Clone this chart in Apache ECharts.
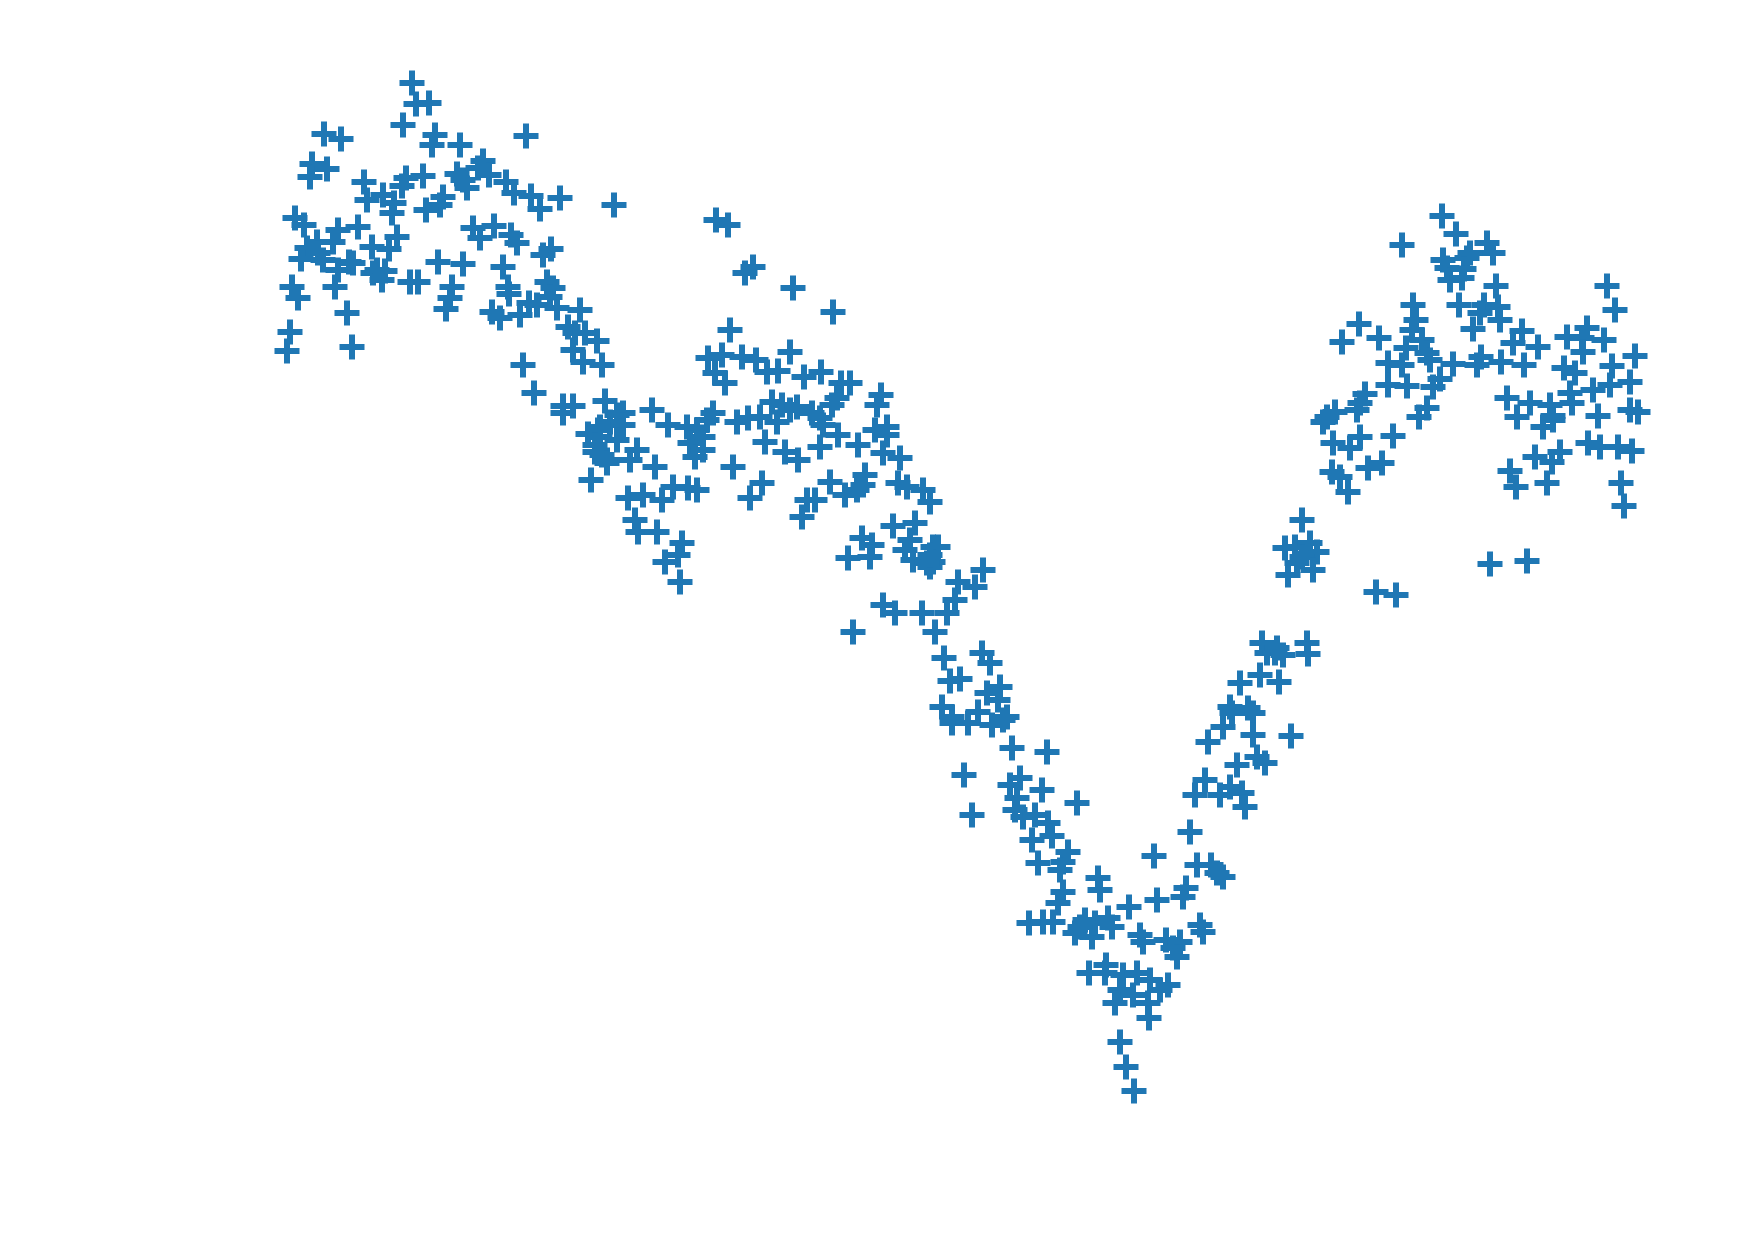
<!DOCTYPE html>
<html>
<head>
<meta charset="utf-8">
<script src="https://cdn.jsdelivr.net/npm/echarts@6/dist/echarts.min.js"></script>
<style>
html,body{margin:0;padding:0;background:#fff;}
#chart{width:1739px;height:1241px;}
</style>
</head>
<body>
<div id="chart"></div>
<script>
// Values (x grows right, y grows downward, no visible axes)
const leftCluster = [
[412,83],[416,104],[429,103],[403,125],[324,134],[341,139],[435,135],[432,145],[460,145],[526,136],
[312,164],[327,169],[310,177],[364,182],[367,200],[383,195],[394,203],[392,213],
[406,178],[402,186],[423,176],[443,197],[440,205],[426,210],[457,174],[467,188],[463,180],
[483,161],[478,168],[489,175],[506,182],[514,193],[531,196],[540,209],[560,198],[614,205],
[295,218],[304,225],[338,230],[358,227],[372,247],[397,237],[389,249],
[473,228],[480,238],[494,226],[511,235],[517,243],[543,255],[551,249],[438,262],[463,264],[503,267],
[307,248],[317,242],[333,242],[301,259],[318,253],[323,260],[349,262],[353,263],[338,270],[373,273],[385,271],[377,270],[382,280],
[292,287],[335,287],[410,282],[418,282],[452,287],[508,287],[547,282],[553,288],
[298,298],[450,298],[446,309],[347,313],[290,332],[287,351],[352,347],
[509,294],[492,312],[500,318],[520,315],[529,303],[537,305],[550,297],[557,308],[580,310],[568,327],[575,333],[585,333],[597,341],[573,350],[583,362],[602,365],
[523,365],[534,393],[563,406],[573,406],[563,413],[605,401],[588,434],[600,427],[600,437],[595,452],[607,460],[591,480]
];
const middle = [
[716,220],[728,225],[753,267],[745,273],[793,288],[833,312],[730,330],
[708,358],[722,355],[742,357],[756,360],[778,371],[790,352],[804,377],[821,372],[841,383],[850,383],[715,373],[725,383],[767,372],
[617,415],[623,413],[610,422],[623,425],[598,430],[617,440],[595,445],[602,455],[607,463],[637,450],[630,460],[655,467],[652,410],[668,425],
[687,427],[697,430],[707,420],[713,413],[690,443],[703,450],[695,457],[737,422],[748,418],[760,417],[772,402],[782,405],[777,422],[790,410],
[797,407],[812,413],[820,418],[823,425],[832,405],[837,398],[838,435],[877,405],[875,430],[881,395],[887,427],[765,442],[785,452],[798,460],
[820,447],[858,445],[733,467],[883,453],[703,437],[887,435],[900,458],
[762,483],[750,498],[830,482],[845,495],[857,490],[865,475],[863,485],[898,483],[907,487],[923,490],[930,502],
[628,498],[643,495],[662,500],[673,487],[688,488],[697,490],[635,520],[638,532],[657,532],[682,543],[678,555],[665,562],[680,582],
[807,500],[815,500],[802,517],[893,526],[915,523],[862,538],[872,545],[848,558],[870,557],[910,540],[905,550],[913,560],[933,547],[930,567],
[883,605],[895,613],[922,613],[853,632],[935,632]
];
const valley = [
[938,547],[933,562],[927,563],[930,555],[983,570],[958,582],[975,587],[955,600],[947,613],[944,658],[982,653],[990,663],[960,679],[950,681],
[1000,687],[987,693],[998,700],[942,707],[978,712],[952,717],[1007,717],
[1262,643],[1267,653],[1260,675],[1240,683],[1230,707],[1248,708],[1253,713],
[952,723],[968,723],[992,725],[1003,720],[1012,748],[1047,752],[964,775],[1010,785],[1020,778],[1042,790],[1017,798],[1077,803],[972,815],
[1015,810],[1023,817],[1035,815],[1048,823],[1052,836],[1032,840],[1038,863],[1068,852],[1063,862],[1060,870],[1098,878],[1100,890],
[1063,892],[1058,903],[1154,856],[1129,907],[1157,900],[1186,888],[1183,897],[1190,832],[1197,865],[1211,865],[1217,873],[1223,877],
[1208,742],[1223,727],[1232,713],[1253,735],[1257,757],[1265,763],[1237,765],[1205,780],[1195,795],[1220,795],[1230,787],[1242,793],[1245,807],
[1029,923],[1043,922],[1053,922],[1075,933],[1085,920],[1092,937],[1095,923],[1108,918],[1112,927],[1080,927],[1140,935],[1143,942],
[1166,940],[1173,948],[1180,942],[1177,957],[1200,925],[1203,932],[1089,973],[1106,965],[1105,973],[1120,990],[1123,975],[1137,973],
[1150,980],[1160,990],[1168,985],[1115,1003],[1133,995],[1148,1003],[1149,1018],[1120,1042],[1126,1067],[1134,1091],
[1275,653],[1283,655],[1307,643],[1308,654],[1279,682],[1291,736]
];
const rightCluster = [
[1442,216],[1456,234],[1402,245],[1487,243],[1493,253],[1443,260],[1467,258],[1470,253],[1447,268],[1464,269],[1450,280],[1462,278],
[1496,286],[1607,286],[1615,310],[1459,305],[1484,305],[1480,313],[1498,307],[1500,320],[1413,305],[1359,324],[1342,342],[1379,338],
[1416,320],[1412,330],[1422,340],[1406,348],[1473,329],[1522,331],[1513,343],[1538,347],[1567,337],[1582,338],[1587,328],[1604,340],
[1583,352],[1635,356],[1388,363],[1402,365],[1427,353],[1430,360],[1453,364],[1481,357],[1477,365],[1501,362],[1524,365],[1564,368],
[1575,373],[1612,366],[1630,382],[1610,385],[1593,390],[1570,393],[1388,385],[1407,386],[1440,379],[1433,387],[1365,394],[1360,403],
[1507,398],[1530,403],[1550,405],[1572,403],[1598,416],[1630,410],[1427,408],[1419,417],[1327,417],[1335,412],[1357,410],[1517,417],[1553,416],
[1323,422],[1333,443],[1350,448],[1360,437],[1393,436],[1332,472],[1340,477],[1348,492],[1368,468],[1382,463],[1543,427],[1553,420],
[1638,412],[1588,443],[1600,447],[1618,447],[1632,451],[1535,457],[1560,452],[1552,462],[1510,471],[1516,487],[1547,483],[1621,483],
[1624,506],[1302,520],[1285,548],[1295,547],[1310,543],[1317,552],[1302,557],[1288,575],[1313,570],[1297,563],[1490,564],[1527,561],
[1376,592],[1396,595],[1277,648]
];

const allPoints = leftCluster.concat(middle, valley, rightCluster);
const chart = echarts.init(document.getElementById('chart'), null, {renderer: 'canvas'});
chart.setOption({
  animation: false,
  backgroundColor: '#ffffff',
  grid: {left: 0, right: 0, top: 0, bottom: 0},
  xAxis: {type: 'value', min: 0, max: 1739, show: false},
  yAxis: {type: 'value', min: 0, max: 1241, inverse: true, show: false},
  series: [{
    type: 'scatter',
    data: allPoints,
    symbol: 'path://M38,0H62V38H100V62H62V100H38V62H0V38H38Z',
    symbolSize: 25,
    itemStyle: {color: '#1f77b4', opacity: 1},
    emphasis: {disabled: true}
  }]
});
</script>
</body>
</html>
